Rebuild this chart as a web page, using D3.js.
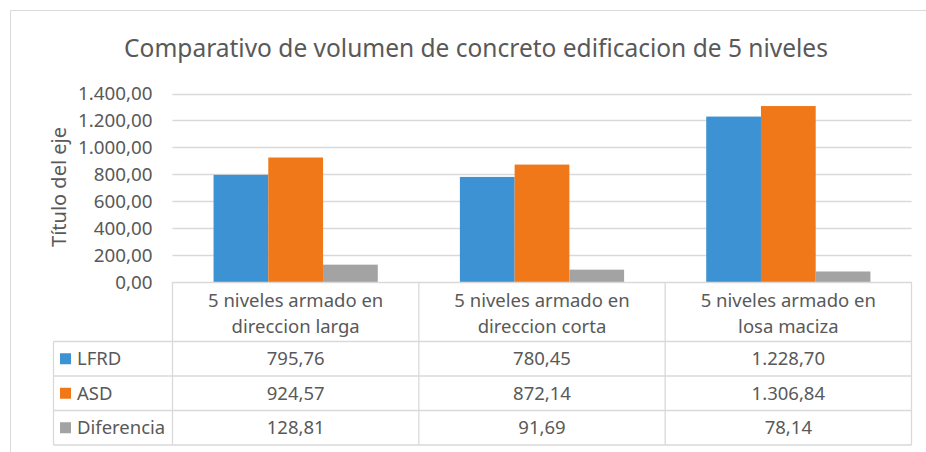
<!DOCTYPE html>
<html>
<head>
<meta charset="utf-8">
<script src="https://cdn.jsdelivr.net/npm/d3@7"></script>
<style>
    body { margin: 0; background: #fff; }
    svg { display: block; font-family: "Noto Sans", sans-serif; }
</style>
</head>
<body>
<svg id="chart" width="926" height="452"></svg>
<script>
(function(){
    var categories = [
        ['5 niveles armado en', 'direccion larga'],
        ['5 niveles armado en', 'direccion corta'],
        ['5 niveles armado en', 'losa maciza']
    ];
    var seriesNames = ['LFRD', 'ASD', 'Diferencia'];
    var lfrd = [795.76, 780.45, 1228.70];
    var asd = [924.57, 872.14, 1306.84];
    var diferencia = [128.81, 91.69, 78.14];
    var yTicks = [0, 200, 400, 600, 800, 1000, 1200, 1400];

    var colors = ['#3c92d2', '#f07818', '#a3a3a3'];
    var txt = '#595959',
        grid = '#d9d9d9';

    var values = [lfrd, asd, diferencia];

    var svg = d3.select('#chart');

    var left = 172.5, right = 911.5, top = 93.5, base = 282;
    var rowH = 34.5, headH = 59.5, tableLeft = 53.5;

    // es-ES style numbers: 1.234,56
    var fmt = function(v){
        var s = d3.format(',.2f')(v);
        return s.replace(/,/g, '#').replace('.', ',').replace(/#/g, '.');
    };

    // outer frame
    svg.append('line').attr('x1', 10.5).attr('x2', 926).attr('y1', 10.5).attr('y2', 10.5)
        .style('stroke', grid);
    svg.append('line').attr('x1', 10.5).attr('x2', 10.5).attr('y1', 10.5).attr('y2', 452)
        .style('stroke', grid);

    svg.append('text')
        .attr('x', 476).attr('y', 57)
        .attr('text-anchor', 'middle')
        .style('font-size', '24.5px')
        .style('fill', txt)
        .text('Comparativo de volumen de concreto edificacion de 5 niveles');

    var y = d3.scaleLinear().domain([0, 1400]).range([base, top]);
    var x0 = d3.scaleBand().domain(d3.range(categories.length)).range([left, right]);
    var gap = x0.bandwidth() / 6;
    var x1 = d3.scaleBand().domain(d3.range(seriesNames.length)).range([gap, x0.bandwidth() - gap]);

    // gridlines
    svg.append('g').selectAll('line').data(yTicks.slice(1)).enter().append('line')
        .attr('x1', left).attr('x2', right)
        .attr('y1', function(d){ return Math.round(y(d)) + 0.5 })
        .attr('y2', function(d){ return Math.round(y(d)) + 0.5 })
        .style('stroke', grid).style('stroke-width', 1.3);

    // y axis
    var yAxis = svg.append('g')
        .attr('transform', 'translate(' + (left - 20) + ',0)')
        .call(d3.axisLeft(y).tickValues(yTicks).tickFormat(fmt).tickSize(0).tickPadding(0));
    yAxis.select('.domain').remove();
    yAxis.selectAll('text')
        .style('font-family', '"Noto Sans", sans-serif')
        .style('font-size', '18.8px')
        .style('fill', txt);

    svg.append('text')
        .attr('transform', 'translate(66,187) rotate(-90)')
        .attr('text-anchor', 'middle')
        .style('font-size', '20px')
        .style('fill', txt)
        .text('Título del eje');

    // bars
    var groups = svg.append('g').selectAll('g').data(categories).enter().append('g')
        .attr('transform', function(d, i){ return 'translate(' + x0(i) + ',0)' });
    groups.selectAll('rect')
        .data(function(d, i){ return values.map(function(v, s){ return {s: s, v: v[i]} }) })
        .enter().append('rect')
        .attr('x', function(d){ return x1(d.s) })
        .attr('width', x1.bandwidth())
        .attr('y', function(d){ return y(d.v) })
        .attr('height', function(d){ return base - y(d.v) })
        .style('fill', function(d){ return colors[d.s] });

    // data table
    var tbl = svg.append('g').style('fill', txt).style('font-size', '18.5px');
    var tableBottom = base + headH + rowH * seriesNames.length;
    var hl = [base + 0.5];
    d3.range(seriesNames.length + 1).forEach(function(r){ hl.push(base + headH + rowH * r) });
    tbl.selectAll('.hline').data(hl).enter().append('line')
        .attr('x1', function(d, i){ return i < 1 ? left : tableLeft })
        .attr('x2', right)
        .attr('y1', function(d){ return d }).attr('y2', function(d){ return d })
        .style('stroke', grid).style('stroke-width', 1.3);
    var vl = [left, x0(1), x0(2), right];
    tbl.selectAll('.vline').data(vl).enter().append('line')
        .attr('x1', function(d){ return d }).attr('x2', function(d){ return d })
        .attr('y1', base).attr('y2', tableBottom)
        .style('stroke', grid).style('stroke-width', 1.3);
    tbl.append('line')
        .attr('x1', tableLeft).attr('x2', tableLeft)
        .attr('y1', base + headH).attr('y2', tableBottom)
        .style('stroke', grid).style('stroke-width', 1.3);

    categories.forEach(function(c, i){
        var t = tbl.append('text')
            .attr('text-anchor', 'middle')
            .attr('x', x0(i) + x0.bandwidth() / 2)
            .attr('y', base + 25);
        c.forEach(function(line, k){
            t.append('tspan').attr('x', x0(i) + x0.bandwidth() / 2)
                .attr('dy', k ? 26 : 0).text(line);
        });
    });

    seriesNames.forEach(function(name, s){
        var cy = base + headH + rowH * s + rowH / 2;
        tbl.append('rect')
            .attr('x', 60).attr('y', cy - 5.5).attr('width', 11).attr('height', 11)
            .style('fill', colors[s]);
        tbl.append('text')
            .attr('x', 77).attr('y', cy + 6.5)
            .text(name);
        values[s].forEach(function(v, i){
            tbl.append('text')
                .attr('text-anchor', 'middle')
                .attr('x', x0(i) + x0.bandwidth() / 2)
                .attr('y', cy + 6.5)
                .text(fmt(v));
        });
    });
})();
</script>
</body>
</html>
